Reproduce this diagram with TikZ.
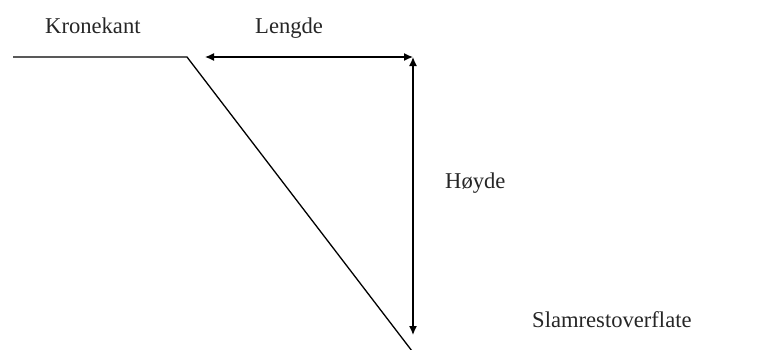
\documentclass[tikz,border=0pt]{standalone}
\usepackage{fontspec}
\setmainfont{Liberation Serif}
\usetikzlibrary{arrows.meta}
\tikzset{
  label text/.style={anchor=base west,inner sep=0pt,font=\fontsize{22.6}{27}\selectfont,text=black!85},
  measure/.style={{Latex[length=9pt,width=8pt]}-{Latex[length=9pt,width=8pt]},line width=1.3pt},
  profile/.style={line width=1.3pt}
}
\begin{document}
\begin{tikzpicture}[x=1pt,y=-1pt]
  \useasboundingbox (0,0) rectangle (764,349);
  % profil av kant og skraning
  \coordinate (start) at (13,57);
  \coordinate (kant) at (187,57);
  \coordinate (bunn) at (412,351);
  \draw[profile] (start) -- (kant) -- (bunn);
  % maal
  \coordinate (lengdeA) at (205,57);
  \coordinate (hjorne) at (413,57);
  \coordinate (hoydeB) at (413,335);
  \draw[measure] (lengdeA) -- (hjorne);
  \draw[measure] (hjorne) -- (hoydeB);
  % tekster
  \node[label text] (kronekant) at (45,33) {Kronekant};
  \node[label text] (lengde) at (255,33) {Lengde};
  \node[label text] (hoyde) at (445,188) {Høyde};
  \node[label text] (slam) at (532,327) {Slamrestoverflate};
\end{tikzpicture}
\end{document}
